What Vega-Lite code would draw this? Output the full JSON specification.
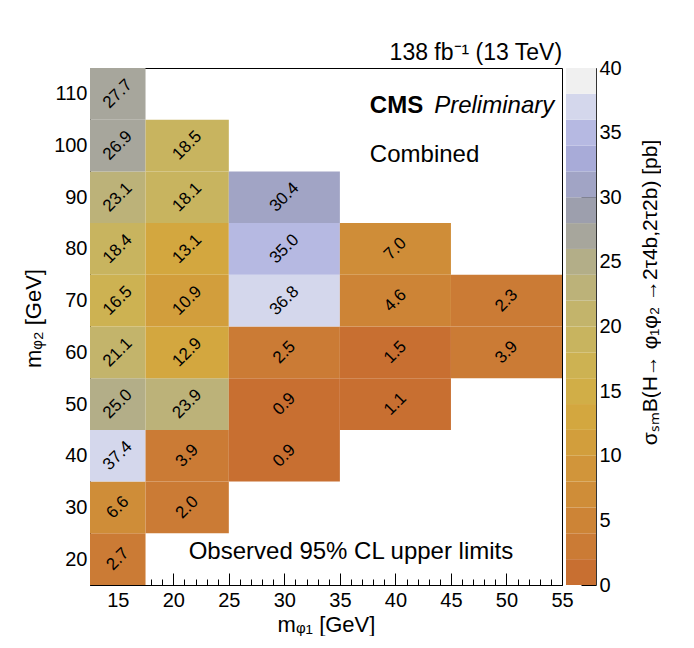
{
  "$schema": "https://vega.github.io/schema/vega-lite/v6.json",
  "background": "white",
  "padding": {"left": 22, "top": 41, "right": 0, "bottom": 0},
  "spacing": 4,
  "bounds": "flush",
  "config": {
    "view": {"stroke": null},
    "font": "Liberation Sans",
    "axis": {"grid": false, "labelFont": "Liberation Sans", "titleFont": "Liberation Sans", "labelColor": "black", "titleColor": "black", "tickColor": "black", "domainColor": "black", "titleFontWeight": "normal", "zindex": 1, "labelFlush": false, "labelOverlap": false}
  },
  "hconcat": [
    {
      "width": 472,
      "height": 517,
      "view": {"stroke": "black", "strokeWidth": 1},
      "title": {"text": "138 fb⁻¹ (13 TeV)", "anchor": "end", "fontSize": 23, "fontWeight": "normal", "font": "Liberation Sans", "color": "black", "offset": 3, "dx": -11},
      "data": {"values": [
        {"m1": 15, "m1lo": 12.5, "m1hi": 17.5, "m2": 20, "m2lo": 15, "m2hi": 25, "limit": 2.7},
        {"m1": 15, "m1lo": 12.5, "m1hi": 17.5, "m2": 30, "m2lo": 25, "m2hi": 35, "limit": 6.6},
        {"m1": 15, "m1lo": 12.5, "m1hi": 17.5, "m2": 40, "m2lo": 35, "m2hi": 45, "limit": 37.4},
        {"m1": 15, "m1lo": 12.5, "m1hi": 17.5, "m2": 50, "m2lo": 45, "m2hi": 55, "limit": 25.0},
        {"m1": 15, "m1lo": 12.5, "m1hi": 17.5, "m2": 60, "m2lo": 55, "m2hi": 65, "limit": 21.1},
        {"m1": 15, "m1lo": 12.5, "m1hi": 17.5, "m2": 70, "m2lo": 65, "m2hi": 75, "limit": 16.5},
        {"m1": 15, "m1lo": 12.5, "m1hi": 17.5, "m2": 80, "m2lo": 75, "m2hi": 85, "limit": 18.4},
        {"m1": 15, "m1lo": 12.5, "m1hi": 17.5, "m2": 90, "m2lo": 85, "m2hi": 95, "limit": 23.1},
        {"m1": 15, "m1lo": 12.5, "m1hi": 17.5, "m2": 100, "m2lo": 95, "m2hi": 105, "limit": 26.9},
        {"m1": 15, "m1lo": 12.5, "m1hi": 17.5, "m2": 110, "m2lo": 105, "m2hi": 115, "limit": 27.7},
        {"m1": 21.25, "m1lo": 17.5, "m1hi": 25, "m2": 30, "m2lo": 25, "m2hi": 35, "limit": 2.0},
        {"m1": 21.25, "m1lo": 17.5, "m1hi": 25, "m2": 40, "m2lo": 35, "m2hi": 45, "limit": 3.9},
        {"m1": 21.25, "m1lo": 17.5, "m1hi": 25, "m2": 50, "m2lo": 45, "m2hi": 55, "limit": 23.9},
        {"m1": 21.25, "m1lo": 17.5, "m1hi": 25, "m2": 60, "m2lo": 55, "m2hi": 65, "limit": 12.9},
        {"m1": 21.25, "m1lo": 17.5, "m1hi": 25, "m2": 70, "m2lo": 65, "m2hi": 75, "limit": 10.9},
        {"m1": 21.25, "m1lo": 17.5, "m1hi": 25, "m2": 80, "m2lo": 75, "m2hi": 85, "limit": 13.1},
        {"m1": 21.25, "m1lo": 17.5, "m1hi": 25, "m2": 90, "m2lo": 85, "m2hi": 95, "limit": 18.1},
        {"m1": 21.25, "m1lo": 17.5, "m1hi": 25, "m2": 100, "m2lo": 95, "m2hi": 105, "limit": 18.5},
        {"m1": 30, "m1lo": 25, "m1hi": 35, "m2": 40, "m2lo": 35, "m2hi": 45, "limit": 0.9},
        {"m1": 30, "m1lo": 25, "m1hi": 35, "m2": 50, "m2lo": 45, "m2hi": 55, "limit": 0.9},
        {"m1": 30, "m1lo": 25, "m1hi": 35, "m2": 60, "m2lo": 55, "m2hi": 65, "limit": 2.5},
        {"m1": 30, "m1lo": 25, "m1hi": 35, "m2": 70, "m2lo": 65, "m2hi": 75, "limit": 36.8},
        {"m1": 30, "m1lo": 25, "m1hi": 35, "m2": 80, "m2lo": 75, "m2hi": 85, "limit": 35.0},
        {"m1": 30, "m1lo": 25, "m1hi": 35, "m2": 90, "m2lo": 85, "m2hi": 95, "limit": 30.4},
        {"m1": 40, "m1lo": 35, "m1hi": 45, "m2": 50, "m2lo": 45, "m2hi": 55, "limit": 1.1},
        {"m1": 40, "m1lo": 35, "m1hi": 45, "m2": 60, "m2lo": 55, "m2hi": 65, "limit": 1.5},
        {"m1": 40, "m1lo": 35, "m1hi": 45, "m2": 70, "m2lo": 65, "m2hi": 75, "limit": 4.6},
        {"m1": 40, "m1lo": 35, "m1hi": 45, "m2": 80, "m2lo": 75, "m2hi": 85, "limit": 7.0},
        {"m1": 50, "m1lo": 45, "m1hi": 55, "m2": 60, "m2lo": 55, "m2hi": 65, "limit": 3.9},
        {"m1": 50, "m1lo": 45, "m1hi": 55, "m2": 70, "m2lo": 65, "m2hi": 75, "limit": 2.3}
      ]},
      "layer": [
        {
          "mark": {"type": "rect"},
          "encoding": {
            "x": {"field": "m1lo", "type": "quantitative", "scale": {"domain": [12.5, 55], "nice": false, "zero": false},
              "axis": {"orient": "bottom", "values": [15, 20, 25, 30, 35, 40, 45, 50, 55], "tickSize": -12, "labelPadding": 17, "labelFontSize": 20, "title": "mᵩ₁ [GeV]", "titleFontSize": 22, "titlePadding": 4}},
            "x2": {"field": "m1hi"},
            "y": {"field": "m2lo", "type": "quantitative", "scale": {"domain": [15, 115], "nice": false, "zero": false},
              "axis": {"orient": "left", "values": [20, 30, 40, 50, 60, 70, 80, 90, 100, 110], "tickSize": -12, "labelPadding": 15, "labelFontSize": 20, "title": "mᵩ₂ [GeV]", "titleFontSize": 22, "titlePadding": 8, "titleY": 250}},
            "y2": {"field": "m2hi"},
            "color": {"field": "limit", "type": "quantitative", "legend": null,
              "scale": {"type": "threshold", "domain": [2, 4, 6, 8, 10, 12, 14, 16, 18, 20, 22, 24, 26, 28, 30, 32, 34, 36, 38],
                "range": ["#C86F31", "#CB7B35", "#CD8436", "#CF8D38", "#D1953A", "#D29E3C", "#D3A73F", "#D1AE47", "#CDB252", "#C8B45F", "#C3B46B", "#BCB279", "#B3AE88", "#A7A69C", "#9D9FAD", "#A1A4C5", "#A8ABD8", "#B6B9E2", "#D4D7EC", "#F0F0F0"]}}
          }
        },
        {
          "mark": {"type": "text", "angle": 315, "fontSize": 17, "font": "Liberation Sans", "color": "black", "align": "center", "baseline": "middle"},
          "encoding": {
            "x": {"field": "m1", "type": "quantitative", "scale": {"domain": [12.5, 55], "nice": false, "zero": false},
              "axis": {"orient": "bottom", "values": [13, 14, 15, 16, 17, 18, 19, 20, 21, 22, 23, 24, 25, 26, 27, 28, 29, 30, 31, 32, 33, 34, 35, 36, 37, 38, 39, 40, 41, 42, 43, 44, 45, 46, 47, 48, 49, 50, 51, 52, 53, 54, 55], "tickSize": -6, "labels": false, "domain": false, "title": null}},
            "y": {"field": "m2", "type": "quantitative", "scale": {"domain": [15, 115], "nice": false, "zero": false},
              "axis": {"orient": "left", "values": [16, 18, 20, 22, 24, 26, 28, 30, 32, 34, 36, 38, 40, 42, 44, 46, 48, 50, 52, 54, 56, 58, 60, 62, 64, 66, 68, 70, 72, 74, 76, 78, 80, 82, 84, 86, 88, 90, 92, 94, 96, 98, 100, 102, 104, 106, 108, 110, 112, 114], "tickSize": -6, "labels": false, "domain": false, "title": null}},
            "text": {"field": "limit", "type": "quantitative", "format": ".1f"}
          }
        },
        {
          "data": {"values": [{}]},
          "mark": {"type": "text", "text": "CMS", "fontSize": 24, "fontWeight": "bold", "font": "Liberation Sans", "color": "black", "align": "left", "baseline": "middle"},
          "encoding": {
            "x": {"datum": 37.7, "type": "quantitative", "scale": {"domain": [12.5, 55], "nice": false, "zero": false}, "axis": null},
            "y": {"datum": 107.7, "type": "quantitative", "scale": {"domain": [15, 115], "nice": false, "zero": false}, "axis": null}
          }
        },
        {
          "data": {"values": [{}]},
          "mark": {"type": "text", "text": "Preliminary", "fontSize": 24, "fontStyle": "italic", "font": "Liberation Sans", "color": "black", "align": "right", "baseline": "middle"},
          "encoding": {
            "x": {"datum": 54.3, "type": "quantitative", "scale": {"domain": [12.5, 55], "nice": false, "zero": false}, "axis": null},
            "y": {"datum": 107.7, "type": "quantitative", "scale": {"domain": [15, 115], "nice": false, "zero": false}, "axis": null}
          }
        },
        {
          "data": {"values": [{}]},
          "mark": {"type": "text", "text": "Combined", "fontSize": 24, "font": "Liberation Sans", "color": "black", "align": "left", "baseline": "middle"},
          "encoding": {
            "x": {"datum": 37.7, "type": "quantitative", "scale": {"domain": [12.5, 55], "nice": false, "zero": false}, "axis": null},
            "y": {"datum": 98.1, "type": "quantitative", "scale": {"domain": [15, 115], "nice": false, "zero": false}, "axis": null}
          }
        },
        {
          "data": {"values": [{}]},
          "mark": {"type": "text", "text": "Observed 95% CL upper limits", "fontSize": 24, "font": "Liberation Sans", "color": "black", "align": "center", "baseline": "middle"},
          "encoding": {
            "x": {"datum": 36.0, "type": "quantitative", "scale": {"domain": [12.5, 55], "nice": false, "zero": false}, "axis": null},
            "y": {"datum": 21.4, "type": "quantitative", "scale": {"domain": [15, 115], "nice": false, "zero": false}, "axis": null}
          }
        }
      ],
      "resolve": {"axis": {"x": "independent", "y": "independent"}}
    },
    {
      "width": 30,
      "height": 517,
      "data": {"values": [
        {"lo": 0, "hi": 2, "z": 1}, {"lo": 2, "hi": 4, "z": 3}, {"lo": 4, "hi": 6, "z": 5}, {"lo": 6, "hi": 8, "z": 7},
        {"lo": 8, "hi": 10, "z": 9}, {"lo": 10, "hi": 12, "z": 11}, {"lo": 12, "hi": 14, "z": 13}, {"lo": 14, "hi": 16, "z": 15},
        {"lo": 16, "hi": 18, "z": 17}, {"lo": 18, "hi": 20, "z": 19}, {"lo": 20, "hi": 22, "z": 21}, {"lo": 22, "hi": 24, "z": 23},
        {"lo": 24, "hi": 26, "z": 25}, {"lo": 26, "hi": 28, "z": 27}, {"lo": 28, "hi": 30, "z": 29}, {"lo": 30, "hi": 32, "z": 31},
        {"lo": 32, "hi": 34, "z": 33}, {"lo": 34, "hi": 36, "z": 35}, {"lo": 36, "hi": 38, "z": 37}, {"lo": 38, "hi": 40, "z": 39}
      ]},
      "mark": {"type": "rect"},
      "encoding": {
        "y": {"field": "lo", "type": "quantitative", "scale": {"domain": [0, 40], "nice": false, "zero": false},
          "axis": {"orient": "right", "values": [0, 5, 10, 15, 20, 25, 30, 35, 40], "tickSize": -15, "labelPadding": 18, "labelFontSize": 20, "domainColor": "#333333",
            "title": "σₛₘB(H→ φ₁φ₂ →2τ4b,2τ2b) [pb]", "titleAngle": 270, "titleBaseline": "top", "titleFontSize": 21, "titlePadding": 18, "titleY": 224}},
        "y2": {"field": "hi"},
        "color": {"field": "z", "type": "quantitative", "legend": null,
          "scale": {"type": "threshold", "domain": [2, 4, 6, 8, 10, 12, 14, 16, 18, 20, 22, 24, 26, 28, 30, 32, 34, 36, 38],
            "range": ["#C86F31", "#CB7B35", "#CD8436", "#CF8D38", "#D1953A", "#D29E3C", "#D3A73F", "#D1AE47", "#CDB252", "#C8B45F", "#C3B46B", "#BCB279", "#B3AE88", "#A7A69C", "#9D9FAD", "#A1A4C5", "#A8ABD8", "#B6B9E2", "#D4D7EC", "#F0F0F0"]}}
      }
    }
  ]
}
